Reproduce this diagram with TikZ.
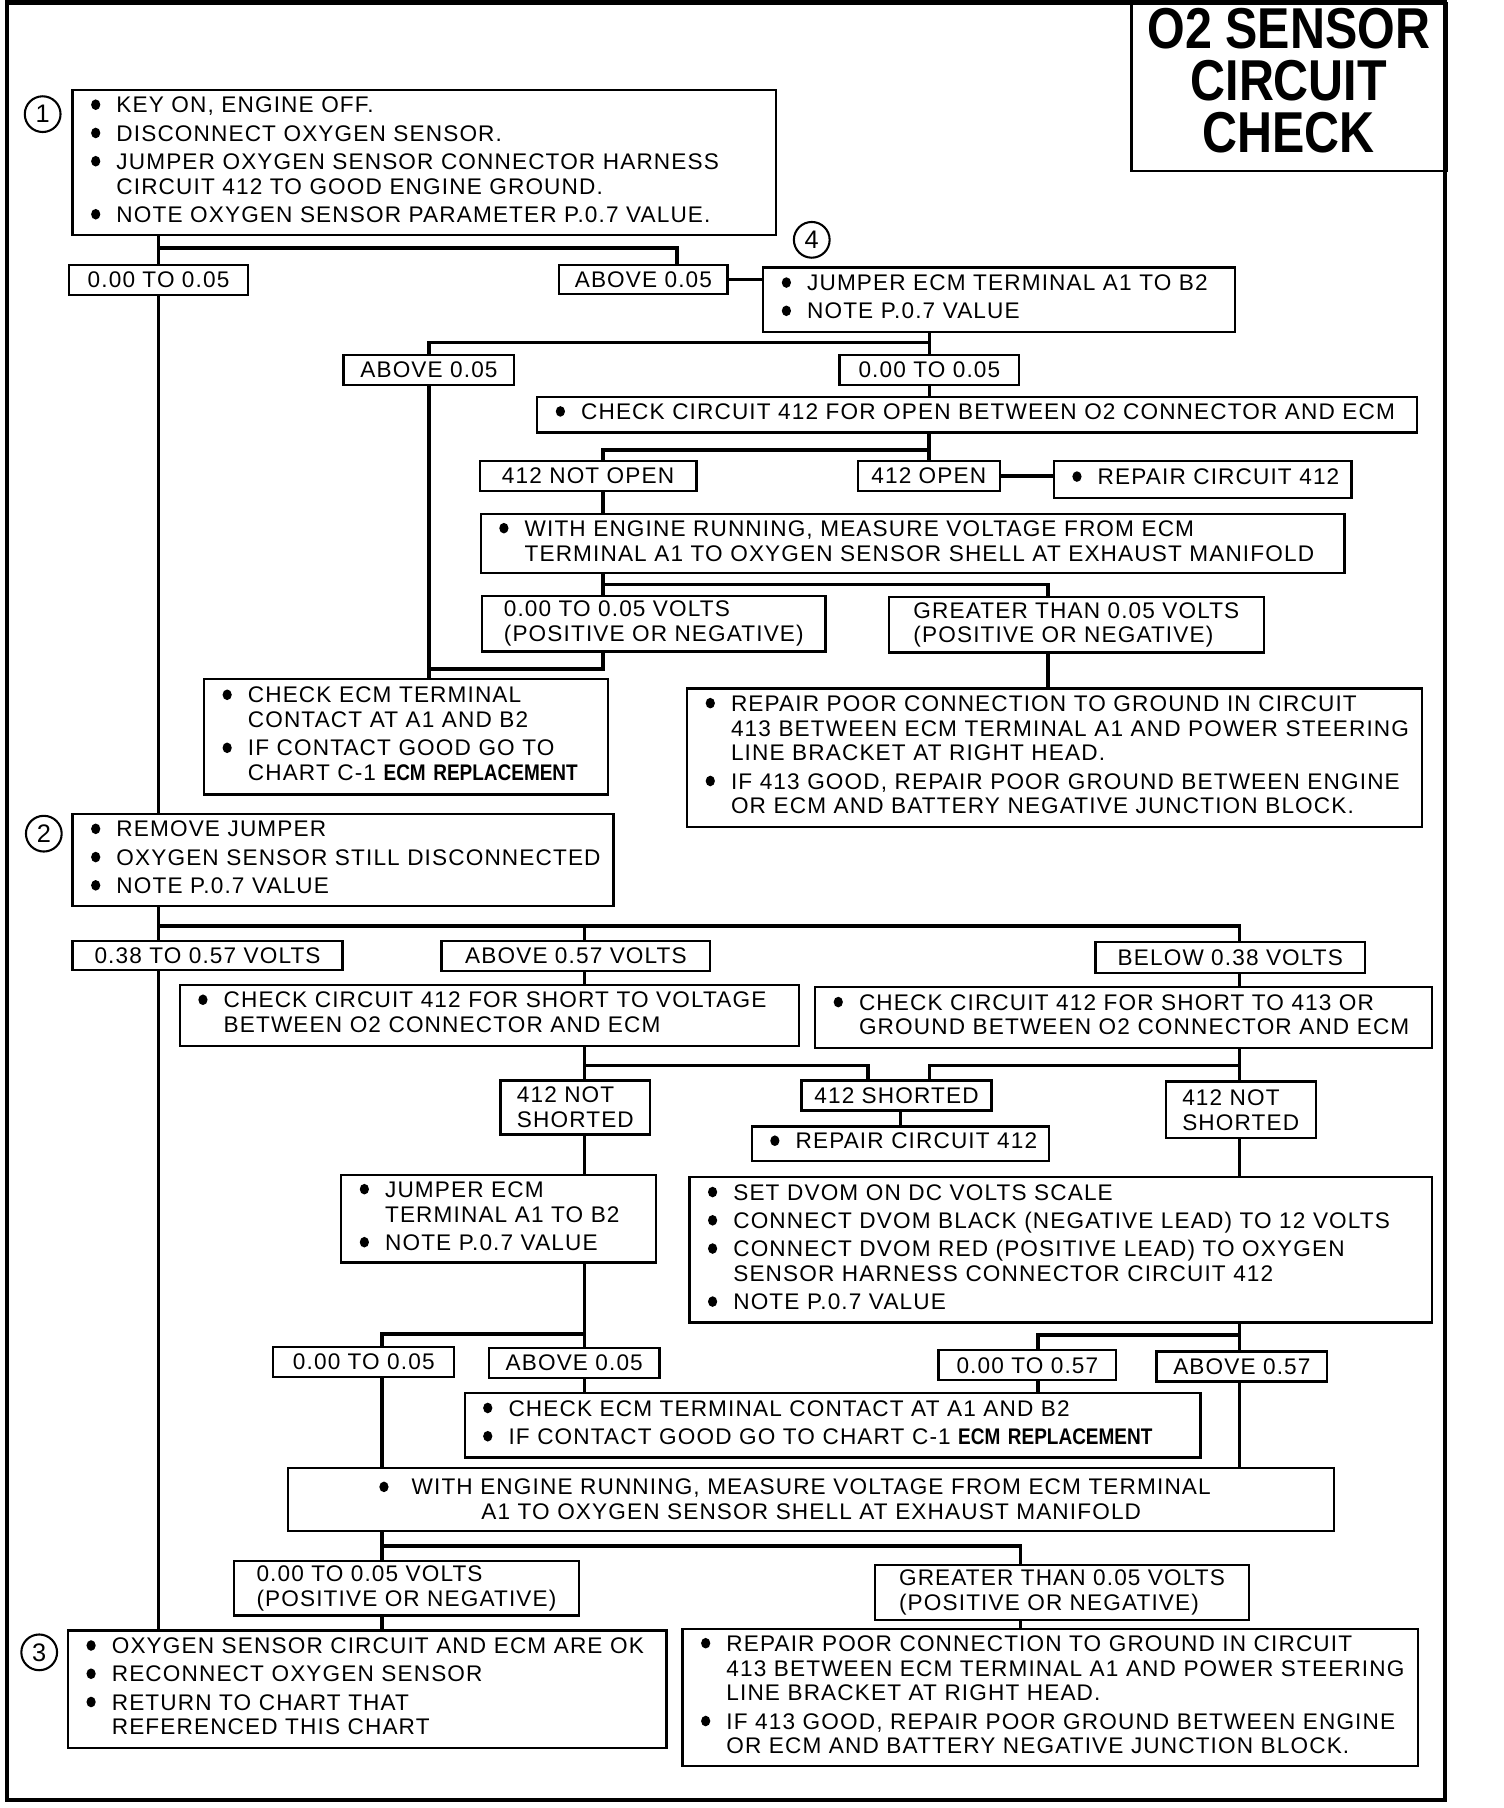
\documentclass[tikz,border=0pt]{standalone}
\usepackage{fontspec}
\setmainfont{Liberation Sans}[LetterSpace=5]
\newfontfamily\narrowfont{Liberation Sans}[FakeStretch=0.84]
\newcommand{\chartfont}{\fontsize{9.8pt}{10.75pt}\selectfont}
\newcommand{\dotmark}{\tikz[baseline=-3.5pt]\fill (0,0) ellipse [x radius=2pt, y radius=2.3pt];}
\newcommand{\pts}[1]{\begin{tabular}{@{}p{11pt}@{}l@{}}#1\end{tabular}}
\newcommand{\repl}{{\narrowfont\bfseries ECM REPLACEMENT}}

\begin{document}
\begin{tikzpicture}[x=0.5pt, y=-0.5pt,
		note/.style={draw, line width=1pt, anchor=north west, align=left,
				inner xsep=8pt, inner ysep=2pt, font=\chartfont},
		tag/.style={draw, line width=1pt, anchor=north west, align=left,
				inner xsep=3pt, inner ysep=1pt, font=\chartfont},
		num/.style={circle, draw, line width=0.9pt, minimum size=15.5pt,
				inner sep=0pt, font=\fontsize{11pt}{12pt}\selectfont},
		hdr/.style={draw, line width=1.2pt, anchor=north west, align=center,
				inner ysep=1pt,
				font=\narrowfont\bfseries\fontsize{25pt}{22.75pt}\selectfont},
		link/.style={line width=1.6pt},
		]
		\useasboundingbox (0,0) rectangle (1304,1568);
		\draw[line width=2pt] (6,2) rectangle (1253,1561);

		% ---- Title ----
		\node[hdr, minimum width=136.5pt, minimum height=72.5pt] (title) at (980,2)
		{O2 SENSOR\\CIRCUIT\\CHECK\rule[-6pt]{0pt}{6pt}};

		% ---- Step 1 ----
		\node[num] (n1) at (37,99) {1};
		\node[note, text width=289pt, minimum height=63pt] (s1) at (62,77)
		{\pts{\dotmark & KEY ON, ENGINE OFF.\\[1.5pt]
				\dotmark & DISCONNECT OXYGEN SENSOR.\\[1.5pt]
				\dotmark & JUMPER OXYGEN SENSOR CONNECTOR HARNESS\\
				& CIRCUIT 412 TO GOOD ENGINE GROUND.\\[1.5pt]
				\dotmark & NOTE OXYGEN SENSOR PARAMETER P.0.7 VALUE.}};
		\node[tag, minimum width=77.5pt, minimum height=13pt] (lo1) at (59,229) {0.00 TO 0.05};
		\node[tag, minimum width=73pt, minimum height=12.5pt] (hi1) at (484,229) {ABOVE 0.05};

		% ---- Step 4 ----
		\node[num] (n4) at (704,208) {4};
		\node[note, text width=188.5pt, minimum height=28pt] (s4) at (661,231)
		{\pts{\dotmark & JUMPER ECM TERMINAL A1 TO B2\\[1.5pt]
				\dotmark & NOTE P.0.7 VALUE}};
		\node[tag, minimum width=74pt, minimum height=13pt] (hi2) at (297,307) {ABOVE 0.05};
		\node[tag, minimum width=78pt, minimum height=13pt] (lo2) at (727,307) {0.00 TO 0.05};
		\node[note, text width=365.5pt, minimum height=15.5pt] (opn) at (465,343)
		{\pts{\dotmark & CHECK CIRCUIT 412 FOR OPEN BETWEEN O2 CONNECTOR AND ECM}};
		\node[tag, minimum width=94pt, minimum height=13pt] (nop) at (415,399) {412 NOT OPEN};
		\node[tag, minimum width=61.5pt, minimum height=13pt] (op) at (743,399) {412 OPEN};
		\node[note, text width=113pt, minimum height=16pt] (rep1) at (913,399)
		{\pts{\dotmark & REPAIR CIRCUIT 412}};
		\node[note, text width=358.5pt, minimum height=25.5pt] (run1) at (416,445)
		{\pts{\dotmark & WITH ENGINE RUNNING, MEASURE VOLTAGE FROM ECM\\
				& TERMINAL A1 TO OXYGEN SENSOR SHELL AT EXHAUST MANIFOLD}};
		\node[tag, minimum width=149pt, minimum height=24pt] (v1lo) at (417,516)
		{0.00 TO 0.05 VOLTS\\(POSITIVE OR NEGATIVE)};
		\node[tag, minimum width=162.5pt, minimum height=24pt] (v1hi) at (770,517)
		{GREATER THAN 0.05 VOLTS\\(POSITIVE OR NEGATIVE)};
		\node[note, text width=159pt, minimum height=50pt] (ecm1) at (176,588)
		{\pts{\dotmark & CHECK ECM TERMINAL\\
				& CONTACT AT A1 AND B2\\[1.5pt]
				\dotmark & IF CONTACT GOOD GO TO\\
				& CHART C-1 \repl}};
		\node[note, text width=302.5pt, minimum height=60pt] (gnd1) at (595,596)
		{\pts{\dotmark & REPAIR POOR CONNECTION TO GROUND IN CIRCUIT\\
				& 413 BETWEEN ECM TERMINAL A1 AND POWER STEERING\\
				& LINE BRACKET AT RIGHT HEAD.\\[1.5pt]
				\dotmark & IF 413 GOOD, REPAIR POOR GROUND BETWEEN ENGINE\\
				& OR ECM AND BATTERY NEGATIVE JUNCTION BLOCK.}};

		% ---- Step 2 ----
		\node[num] (n2) at (38,723) {2};
		\node[note, text width=218.5pt, minimum height=40pt] (s2) at (62,705)
		{\pts{\dotmark & REMOVE JUMPER\\[1.5pt]
				\dotmark & OXYGEN SENSOR STILL DISCONNECTED\\[1.5pt]
				\dotmark & NOTE P.0.7 VALUE}};
		\node[tag, minimum width=117pt, minimum height=12.5pt] (mid2) at (62,815) {0.38 TO 0.57 VOLTS};
		\node[tag, minimum width=116.5pt, minimum height=13pt] (hi3) at (382,815) {ABOVE 0.57 VOLTS};
		\node[tag, minimum width=117pt, minimum height=13.5pt] (lo3) at (949,816) {BELOW 0.38 VOLTS};
		\node[note, text width=252.5pt, minimum height=26.5pt] (shv) at (155,853)
		{\pts{\dotmark & CHECK CIRCUIT 412 FOR SHORT TO VOLTAGE\\
				& BETWEEN O2 CONNECTOR AND ECM}};
		\node[note, text width=251.5pt, minimum height=26.5pt] (shg) at (706,855)
		{\pts{\dotmark & CHECK CIRCUIT 412 FOR SHORT TO 413 OR\\
				& GROUND BETWEEN O2 CONNECTOR AND ECM}};
		\node[tag, minimum width=65pt, minimum height=23.5pt] (ns1) at (433,936) {412 NOT\\SHORTED};
		\node[tag, minimum width=82.5pt, minimum height=13pt] (sh) at (694,936) {412 SHORTED};
		\node[tag, minimum width=65pt, minimum height=24.5pt] (ns2) at (1010,937) {412 NOT\\SHORTED};
		\node[note, text width=113pt, minimum height=15pt] (rep2) at (651,976)
		{\pts{\dotmark & REPAIR CIRCUIT 412}};
		\node[note, text width=120.5pt, minimum height=38pt] (jmp) at (295,1018)
		{\pts{\dotmark & JUMPER ECM\\
				& TERMINAL A1 TO B2\\[1.5pt]
				\dotmark & NOTE P.0.7 VALUE}};
		\node[note, text width=306pt, minimum height=63pt] (dvom) at (597,1020)
		{\pts{\dotmark & SET DVOM ON DC VOLTS SCALE\\[1.5pt]
				\dotmark & CONNECT DVOM BLACK (NEGATIVE LEAD) TO 12 VOLTS\\[1.5pt]
				\dotmark & CONNECT DVOM RED (POSITIVE LEAD) TO OXYGEN\\
				& SENSOR HARNESS CONNECTOR CIRCUIT 412\\[1.5pt]
				\dotmark & NOTE P.0.7 VALUE}};
		\node[tag, minimum width=78.5pt, minimum height=13pt] (lo4) at (236,1167) {0.00 TO 0.05};
		\node[tag, minimum width=74pt, minimum height=13pt] (hi4) at (423,1168) {ABOVE 0.05};
		\node[tag, minimum width=77pt, minimum height=13pt] (lo5) at (813,1170) {0.00 TO 0.57};
		\node[tag, minimum width=74pt, minimum height=13pt] (hi5) at (1002,1171) {ABOVE 0.57};
		\node[note, text width=303pt, minimum height=28pt] (ecm2) at (402,1207)
		{\pts{\dotmark & CHECK ECM TERMINAL CONTACT AT A1 AND B2\\[1.5pt]
				\dotmark & IF CONTACT GOOD GO TO CHART C-1 \repl}};
		\node[note, align=center, text width=437.5pt, minimum height=27.5pt] (run2) at (249,1272)
		{\llap{\dotmark\hspace{10pt}}WITH ENGINE RUNNING, MEASURE VOLTAGE FROM ECM TERMINAL\\
			A1 TO OXYGEN SENSOR SHELL AT EXHAUST MANIFOLD};
		\node[tag, minimum width=149.5pt, minimum height=23.5pt] (v2lo) at (202,1353)
		{0.00 TO 0.05 VOLTS\\(POSITIVE OR NEGATIVE)};
		\node[tag, minimum width=162pt, minimum height=24pt] (v2hi) at (758,1356)
		{GREATER THAN 0.05 VOLTS\\(POSITIVE OR NEGATIVE)};

		% ---- Step 3 ----
		\node[num] (n3) at (34,1433) {3};
		\node[note, text width=243.5pt, minimum height=51pt] (s3) at (58,1413)
		{\pts{\dotmark & OXYGEN SENSOR CIRCUIT AND ECM ARE OK\\[1.5pt]
				\dotmark & RECONNECT OXYGEN SENSOR\\[1.5pt]
				\dotmark & RETURN TO CHART THAT\\
				& REFERENCED THIS CHART}};
		\node[note, text width=303pt, minimum height=59pt] (gnd2) at (591,1412)
		{\pts{\dotmark & REPAIR POOR CONNECTION TO GROUND IN CIRCUIT\\
				& 413 BETWEEN ECM TERMINAL A1 AND POWER STEERING\\
				& LINE BRACKET AT RIGHT HEAD.\\[1.5pt]
				\dotmark & IF 413 GOOD, REPAIR POOR GROUND BETWEEN ENGINE\\
				& OR ECM AND BATTERY NEGATIVE JUNCTION BLOCK.}};

		% ---- Junctions ----
		\coordinate (j1) at (587,215);
		\coordinate (j2) at (372,297);
		\coordinate (j3) at (523,390);
		\coordinate (j4) at (909,507);
		\coordinate (j5) at (523,580);
		\coordinate (j6) at (1075,803);
		\coordinate (j7) at (507,803);
		\coordinate (j8) at (753,924);
		\coordinate (j9) at (806,924);
		\coordinate (j10) at (331,1157);
		\coordinate (j11) at (900,1158);
		\coordinate (j12) at (885,1341);

		% ---- Connectors, upper half ----
		\draw[link] (s1.south -| lo1) -- (lo1);
		\draw[link] (s1.south -| lo1) |- (j1) -- (hi1.north -| j1);
		\draw[link] (hi1.east) -- (s4.west |- hi1.east);
		\draw[link] (s4.south -| lo2) -- (lo2);
		\draw[link] (lo2 |- j2) -| (hi2);
		\draw[link] (hi2) -- (ecm1.north -| hi2);
		\draw[link] (v1lo.south -| j5) |- (hi2 |- j5);
		\draw[link] (lo2) -- (opn.north -| lo2);
		\draw[link] (opn.south -| op) -- (op);
		\draw[link] (op |- j3) -| (nop.north -| j3);
		\draw[link] (op.east) -- (op.east -| rep1.west);
		\draw[link] (nop.south -| j3) -- (run1.north -| j3);
		\draw[link] (run1.south -| j3) -- (v1lo.north -| j3);
		\draw[link] (run1.south -| j3) |- (j4) -- (v1hi.north -| j4);
		\draw[link] (v1hi.south -| j4) -- (gnd1.north -| j4);
		\draw[link] (lo1) -- (s2.north -| lo1);

		% ---- Connectors, lower half ----
		\draw[link] (s2.south -| lo1) -- (mid2.north -| lo1);
		\draw[link] (s2.south -| lo1) |- (j6) -- (lo3.north -| j6);
		\draw[link] (j7) -- (hi3.north -| j7);
		\draw[link] (mid2.south -| lo1) -- (s3.north -| lo1);
		\draw[link] (hi3.south -| j7) -- (shv.north -| j7);
		\draw[link] (lo3.south -| j6) -- (shg.north -| j6);
		\draw[link] (shv.south -| j7) -- (ns1.north -| j7);
		\draw[link] (shv.south -| j7) |- (j8) -- (sh.north -| j8);
		\draw[link] (shg.south -| j6) -- (ns2.north -| j6);
		\draw[link] (shg.south -| j6) |- (j9) -- (sh.north -| j9);
		\draw[link] (sh.south -| rep2) -- (rep2);
		\draw[link] (ns1.south -| j7) -- (jmp.north -| j7);
		\draw[link] (ns2.south -| j6) -- (dvom.north -| j6);
		\draw[link] (jmp.south -| j7) -- (hi4.north -| j7);
		\draw[link] (jmp.south -| j7) |- (j10) -- (lo4.north -| j10);
		\draw[link] (lo4.south -| j10) -- (run2.north -| j10);
		\draw[link] (hi4.south -| j7) -- (ecm2.north -| j7);
		\draw[link] (dvom.south -| j6) -- (hi5.north -| j6);
		\draw[link] (dvom.south -| j6) |- (j11) -- (lo5.north -| j11);
		\draw[link] (lo5.south -| j11) -- (ecm2.north -| j11);
		\draw[link] (hi5.south -| j6) -- (run2.north -| j6);
		\draw[link] (run2.south -| j10) -- (v2lo.north -| j10);
		\draw[link] (run2.south -| j10) |- (j12) -- (v2hi.north -| j12);
		\draw[link] (v2lo.south -| j10) -- (s3.north -| j10);
		\draw[link] (v2hi.south -| j12) -- (gnd2.north -| j12);

	\end{tikzpicture}
\end{document}
